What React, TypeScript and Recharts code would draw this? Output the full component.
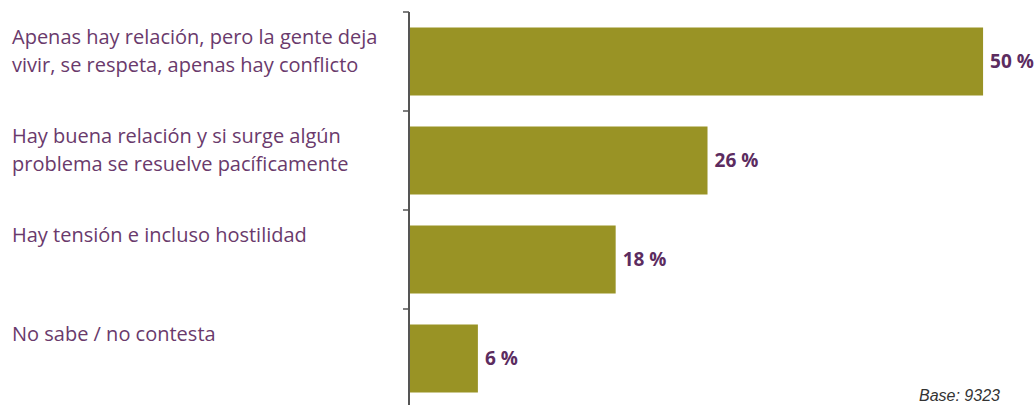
import { Bar, BarChart, LabelList, XAxis, YAxis } from "recharts";

const categories = [
  "Apenas hay relación, pero la gente deja\nvivir, se respeta, apenas hay conflicto",
  "Hay buena relación y si surge algún\nproblema se resuelve pacíficamente",
  "Hay tensión e incluso hostilidad",
  "No sabe / no contesta",
];
const shares = [50, 26, 18, 6];
const baseNote = "Base: 9323";

const data = categories.map((label, i) => ({ label, value: shares[i] }));

const WIDTH = 1035;
const HEIGHT = 410;
const MARGIN = { top: 12, right: 6, bottom: 2, left: 0 };
const AXIS_WIDTH = 409;
const band = (HEIGHT - MARGIN.top - MARGIN.bottom) / categories.length;

const labelColor = "#6a3a6c";
const valueColor = "#5c2c5f";
const barColor = "#999325";

function CategoryTick(props: any) {
  const { x, y, payload } = props;
  const top = y - band / 2;
  const lines = String(payload.value).split("\n");
  return (
    <g>
      <line x1={x + 2} x2={x + 8} y1={top} y2={top} stroke="#555" strokeWidth={1.5} />
      <text x={12} y={top + 32} fill={labelColor} fontSize={20} fontFamily="'Open Sans', sans-serif">
        {lines.map((line, i) => (
          <tspan key={i} x={12} dy={i === 0 ? 0 : 28}>
            {line}
          </tspan>
        ))}
      </text>
    </g>
  );
}

export default function App() {
  return (
    <div style={{ position: "absolute", left: 0, top: 0, width: WIDTH, height: 405, overflow: "hidden", background: "#fff" }}>
      <BarChart width={WIDTH} height={HEIGHT} data={data} layout="vertical" margin={MARGIN} barCategoryGap={15.5}>
        <XAxis type="number" domain={[0, 54]} hide />
        <YAxis
          type="category"
          dataKey="label"
          width={AXIS_WIDTH}
          axisLine={{ stroke: "#555", strokeWidth: 2 }}
          tickLine={false}
          tick={<CategoryTick />}
          interval={0}
        />
        <Bar dataKey="value" fill={barColor} isAnimationActive={false}>
          <LabelList
            dataKey="value"
            position="right"
            offset={7}
            formatter={(v: any) => `${v} %`}
            fill={valueColor}
            fontSize={19}
            fontWeight={700}
            fontFamily="'Open Sans', sans-serif"
          />
        </Bar>
      </BarChart>
      <div
        style={{
          position: "absolute",
          left: 919,
          top: 388,
          fontFamily: "'Liberation Sans', Arial, sans-serif",
          fontStyle: "italic",
          fontSize: 16,
          lineHeight: "16px",
          color: "#333",
        }}
      >
        {baseNote}
      </div>
    </div>
  );
}
